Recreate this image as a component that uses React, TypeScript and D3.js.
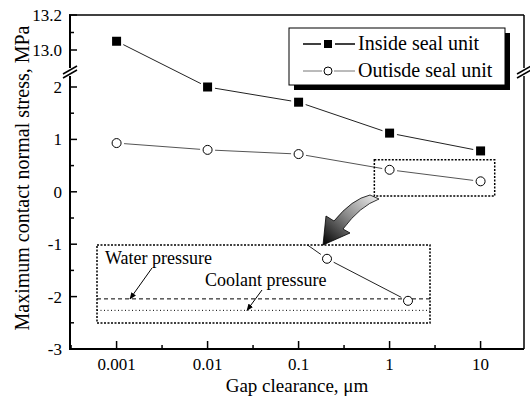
import React from "react";
import * as d3 from "d3";

const gaps = [0.001, 0.01, 0.1, 1, 10];
const insideStress = [13.05, 2.0, 1.71, 1.12, 0.78];
const outsideStress = [0.93, 0.8, 0.72, 0.42, 0.2];
const xTickValues = [0.001, 0.01, 0.1, 1, 10];
const xTickLabels = ["0.001", "0.01", "0.1", "1", "10"];
const xMinorValues = [0.000316, 0.00316, 0.0316, 0.316, 3.16];
const yLowerTicks = [-3, -2, -1, 0, 1, 2];
const yLowerMinor = [-2.5, -1.5, -0.5, 0.5, 1.5];
const yUpperTicks = [13.0, 13.2];
const yUpperLabels = ["13.0", "13.2"];
const yUpperMinor = [13.1];
const waterPressure = 0.21;
const coolantPressure = 0.15;
const zoomBoxX = [0.68, 14.3];
const zoomBoxY = [-0.08, 0.61];
const seriesNames = ["Inside seal unit", "Outisde seal unit"];

const FONT = "Liberation Serif, Tinos, Times New Roman, DejaVu Serif, serif";
const W = 530, H = 403;
const L = 69, R = 524, T = 15, B = 349;
const BREAK_Y = 72;

const x = d3.scaleLog().domain([0.0003, 30]).range([L, R]);
const yLower = d3.scaleLinear().domain([-3, 2]).range([B, 87]);
const yUpper = d3.scaleLinear().domain([13.0, 13.2]).range([50, T]);
const yv = (v: number) => (v >= 10 ? yUpper(v) : yLower(v));

// inset (magnified) scales
const inset = { x0: 97, x1: 430, y0: 245, y1: 323 };
const xi = d3.scaleLog().domain([1, 10]).range([327, 408]);
const yi = d3.scaleLinear().domain([0, 0.5]).range([339, 243.5]);

function shortSeg(p1: number[], p2: number[], g1: number, g2: number) {
  const dx = p2[0] - p1[0], dy = p2[1] - p1[1];
  const len = Math.hypot(dx, dy);
  const ux = dx / len, uy = dy / len;
  return [p1[0] + ux * g1, p1[1] + uy * g1, p2[0] - ux * g2, p2[1] - uy * g2];
}

function Series({ pts, kind, color }: { pts: number[][]; kind: "sq" | "ci"; color: string }) {
  const r = 4.5;
  return (
    <g>
      {pts.slice(1).map((p, i) => {
        const s = shortSeg(pts[i], p, r + 3, r + 3);
        return <line key={i} x1={s[0]} y1={s[1]} x2={s[2]} y2={s[3]} stroke={color} strokeWidth={1} />;
      })}
      {pts.map((p, i) =>
        kind === "sq" ? (
          <rect key={"m" + i} x={p[0] - r} y={p[1] - r} width={2 * r} height={2 * r} fill="#000" />
        ) : (
          <circle key={"m" + i} cx={p[0]} cy={p[1]} r={r} fill="#fff" stroke="#000" strokeWidth={1} />
        )
      )}
    </g>
  );
}

function BreakMark({ cx, cy }: { cx: number; cy: number }) {
  return (
    <g>
      <rect x={cx - 3} y={cy - 4} width={6} height={8} fill="#fff" />
      <line x1={cx - 7} y1={cy + 6} x2={cx + 7} y2={cy - 2} stroke="#000" strokeWidth={1.5} />
      <line x1={cx - 7} y1={cy + 2} x2={cx + 7} y2={cy - 6} stroke="#000" strokeWidth={1.5} />
    </g>
  );
}

export default function App() {
  const inPts = gaps.map((g, i) => [x(g), yv(insideStress[i])]);
  const outPts = gaps.map((g, i) => [x(g), yv(outsideStress[i])]);
  const inInsetPts = gaps.map((g, i) => [xi(g), yi(outsideStress[i])]);

  const bx0 = x(zoomBoxX[0]), bx1 = x(zoomBoxX[1]);
  const by0 = yv(zoomBoxY[1]), by1 = yv(zoomBoxY[0]);

  const wy = yi(waterPressure);
  const cy = yi(coolantPressure);

  return (
    <svg width={W} height={H} style={{ display: "block", position: "absolute", left: 0, top: 0, fontFamily: FONT }}>
      <defs>
        <clipPath id="insetClip">
          <rect x={inset.x0} y={inset.y0} width={inset.x1 - inset.x0} height={inset.y1 - inset.y0} />
        </clipPath>
        <linearGradient id="arrowGrad" x1="1" y1="0" x2="0" y2="1">
          <stop offset="0" stopColor="#f2f2f2" />
          <stop offset="0.5" stopColor="#888" />
          <stop offset="1" stopColor="#000" />
        </linearGradient>
        <marker id="ah" viewBox="0 0 10 10" refX="9" refY="5" markerWidth="7" markerHeight="7" orient="auto">
          <path d="M0,1 L10,5 L0,9 z" fill="#000" />
        </marker>
      </defs>
      <rect width={W} height={H} fill="#fff" />

      {/* frame */}
      <line x1={L} y1={T} x2={R} y2={T} stroke="#000" strokeWidth={1.5} />
      <line x1={R} y1={T} x2={R} y2={B} stroke="#000" strokeWidth={1.5} />
      <line x1={L} y1={B} x2={R} y2={B} stroke="#000" strokeWidth={2} />
      <line x1={L + 1} y1={T} x2={L + 1} y2={B + 1} stroke="#000" strokeWidth={2} />

      {/* x ticks */}
      {xTickValues.map((v, i) => (
        <g key={"xt" + i}>
          <line x1={x(v)} x2={x(v)} y1={B} y2={B - 8} stroke="#000" strokeWidth={1.5} />
          <text x={x(v)} y={370} fontSize={17} textAnchor="middle">{xTickLabels[i]}</text>
        </g>
      ))}
      {xMinorValues.filter((v) => x(v) > L + 2).map((v, i) => (
        <line key={"xm" + i} x1={x(v)} x2={x(v)} y1={B} y2={B - 4} stroke="#000" strokeWidth={1.5} />
      ))}

      {/* y ticks lower */}
      {yLowerTicks.map((v, i) => (
        <g key={"yl" + i}>
          {v > -3 && <line x1={L} x2={L + 8} y1={yLower(v)} y2={yLower(v)} stroke="#000" strokeWidth={1.5} />}
          <text x={62} y={yLower(v) + 6} fontSize={17} textAnchor="end">{String(v)}</text>
        </g>
      ))}
      {yLowerMinor.map((v, i) => (
        <line key={"ylm" + i} x1={L} x2={L + 5} y1={yLower(v)} y2={yLower(v)} stroke="#000" strokeWidth={1.5} />
      ))}
      {yUpperTicks.map((v, i) => (
        <g key={"yu" + i}>
          <line x1={L} x2={L + 8} y1={yUpper(v)} y2={yUpper(v)} stroke="#000" strokeWidth={1.5} />
          <text x={62} y={yUpper(v) + 6} fontSize={17} textAnchor="end">{yUpperLabels[i]}</text>
        </g>
      ))}
      {yUpperMinor.map((v, i) => (
        <line key={"yum" + i} x1={L} x2={L + 5} y1={yUpper(v)} y2={yUpper(v)} stroke="#000" strokeWidth={1.5} />
      ))}

      <BreakMark cx={L + 1} cy={BREAK_Y} />
      <BreakMark cx={R} cy={BREAK_Y} />

      {/* axis titles */}
      <text x={297} y={392} fontSize={19} textAnchor="middle">Gap clearance, μm</text>
      <text transform={`translate(29,178) rotate(-90)`} fontSize={20} textAnchor="middle">
        Maximum contact normal stress, MPa
      </text>

      {/* data */}
      <Series pts={inPts} kind="sq" color="#222" />
      <Series pts={outPts} kind="ci" color="#555" />

      {/* small zoom box */}
      <rect x={bx0} y={by0} width={bx1 - bx0} height={by1 - by0} fill="none" stroke="#000" strokeWidth={1.5} strokeDasharray="2,1.5" />

      {/* curved arrow */}
      <path
        d="M370,195 Q352,199 334,221 L326,216 L323,245 L350,233 L343,229 Q360,206 379,199 Z"
        fill="url(#arrowGrad)"
        stroke="#000"
        strokeWidth={0.8}
      />

      {/* inset */}
      <g clipPath="url(#insetClip)">
        <line x1={inset.x0} x2={inset.x1} y1={wy} y2={wy} stroke="#000" strokeWidth={1} strokeDasharray="4,3" />
        <line x1={inset.x0} x2={inset.x1} y1={cy} y2={cy} stroke="#000" strokeWidth={1} strokeDasharray="1,2.5" />
        <Series pts={inInsetPts} kind="ci" color="#222" />
      </g>
      <rect x={inset.x0} y={inset.y0} width={inset.x1 - inset.x0} height={inset.y1 - inset.y0} fill="none" stroke="#000" strokeWidth={1.5} strokeDasharray="2,1.5" />
      <text x={105} y={264} fontSize={18}>Water pressure</text>
      <text x={205} y={286} fontSize={18}>Coolant pressure</text>
      <line x1={152} y1={268} x2={130} y2={wy} stroke="#000" strokeWidth={1} markerEnd="url(#ah)" />
      <line x1={262} y1={290} x2={247} y2={cy} stroke="#000" strokeWidth={1} markerEnd="url(#ah)" />

      {/* legend */}
      <rect x={294} y={33} width={216} height={57} fill="#000" />
      <rect x={289} y={28} width={216} height={57} fill="#fff" stroke="#000" strokeWidth={1} />
      <g>
        <line x1={303} x2={321} y1={44} y2={44} stroke="#000" strokeWidth={1.5} />
        <line x1={335} x2={355} y1={44} y2={44} stroke="#000" strokeWidth={1.5} />
        <rect x={324} y={40} width={8} height={8} fill="#000" />
        <text x={358} y={50} fontSize={20}>{seriesNames[0]}</text>
        <line x1={303} x2={322} y1={71} y2={71} stroke="#777" strokeWidth={1} />
        <line x1={334} x2={355} y1={71} y2={71} stroke="#777" strokeWidth={1} />
        <circle cx={328} cy={71} r={4} fill="#fff" stroke="#000" strokeWidth={1} />
        <text x={358} y={77} fontSize={20}>{seriesNames[1]}</text>
      </g>
    </svg>
  );
}
